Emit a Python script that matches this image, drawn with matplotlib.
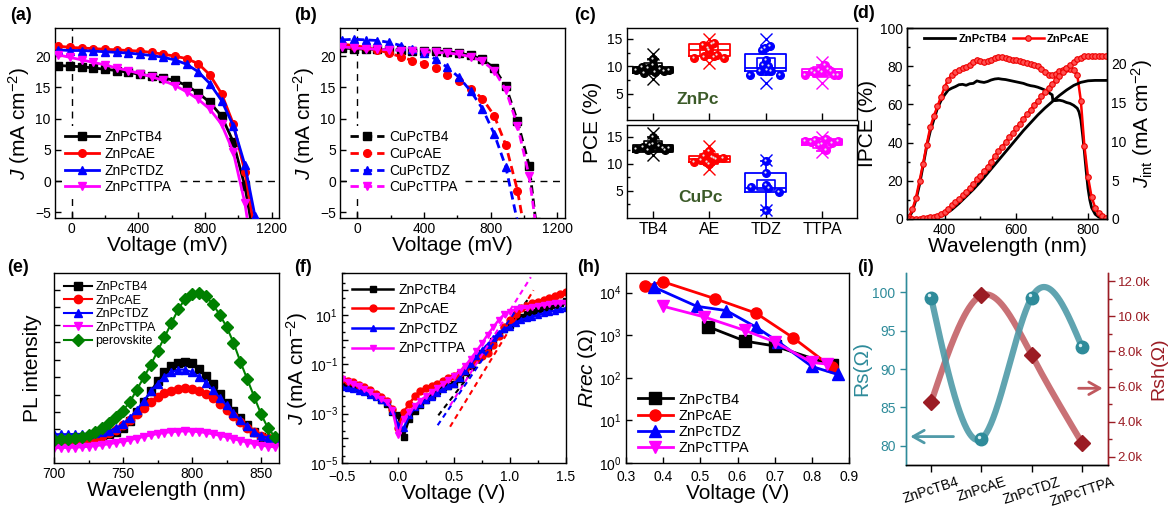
import numpy as np
import matplotlib
matplotlib.use("Agg")
import matplotlib.pyplot as plt
from matplotlib.ticker import MultipleLocator, FixedLocator, FuncFormatter, NullFormatter
from matplotlib.path import Path
import matplotlib.transforms as mtransforms

plt.rcParams['font.family'] = 'Liberation Sans'
plt.rcParams['mathtext.fontset'] = 'custom'
plt.rcParams['mathtext.rm'] = 'Liberation Sans'
plt.rcParams['mathtext.it'] = 'Liberation Sans:italic'
plt.rcParams['mathtext.bf'] = 'Liberation Sans:bold'
plt.rcParams['axes.linewidth'] = 1.0

# ---------------- data ----------------
# (a) ZnPc J-V
Va = [-80, -10, 60, 130, 200, 270, 340, 410, 480, 550, 620, 690, 760, 830, 900, 970, 1040, 1100]
Ja_TB4 = [18.5, 18.4, 18.3, 18.1, 17.9, 17.7, 17.4, 17.1, 16.8, 16.5, 16.1, 15.3, 14.1, 12.6, 10.4, 6.3, -0.8, -10]
Ja_AE = [21.6, 21.4, 21.3, 21.2, 21.1, 21.0, 20.9, 20.8, 20.6, 20.3, 20.0, 19.6, 18.8, 17.0, 14.0, 9.2, 1.5, -8]
Ja_TDZ = [21.0, 20.9, 20.9, 20.8, 20.7, 20.6, 20.5, 20.3, 20.1, 19.8, 19.4, 18.7, 17.5, 15.6, 12.9, 8.9, 2.6, -5.5]
Ja_TTPA = [20.2, 19.8, 19.4, 19.0, 18.6, 18.1, 17.7, 17.2, 16.7, 16.1, 15.3, 14.3, 13.1, 11.5, 9.1, 4.7, -3.5, -14]

# (b) CuPc J-V
Vb = [-90, -20, 50, 120, 190, 260, 330, 400, 470, 540, 610, 680, 750, 820, 890, 960, 1030, 1070]
Jb_TB4 = [21.3, 21.2, 21.1, 21.1, 21.0, 21.0, 20.9, 20.9, 20.8, 20.7, 20.5, 20.1, 19.5, 18.1, 15.2, 9.6, 2.5, -6.5]
Jb_AE = [21.9, 21.7, 21.4, 21.0, 20.5, 19.9, 19.3, 18.8, 18.1, 17.0, 16.0, 14.8, 13.2, 10.5, 5.8, -1.5, -12, -18]
Jb_TDZ = [22.6, 22.7, 22.6, 22.5, 22.2, 21.7, 21.2, 20.5, 19.5, 18.2, 16.6, 14.4, 11.6, 7.6, 2.3, -6.5, -15, -20]
Jb_TTPA = [21.5, 21.3, 21.2, 21.1, 21.0, 20.9, 20.8, 20.7, 20.6, 20.5, 20.3, 19.9, 19.2, 17.7, 14.6, 8.9, 0.8, -7]

# (c) PCE statistics
c_cats = ['TB4', 'AE', 'TDZ', 'TTPA']
c_colors = ['black', '#ff0000', '#0000ff', '#ff00ff']
zn_vals = [[9.4, 9.9, 8.8, 9.7, 11.4, 10.3, 8.9, 9.6, 9.1, 9.3],
           [11.6, 13.9, 11.8, 12.9, 14.3, 11.8, 11.5, 13.3, 12.1, 14.0],
           [8.5, 9.1, 13.4, 13.7, 10.3, 9.4, 9.1, 8.5, 13.0, 11.2, 10.0],
           [8.5, 9.1, 9.4, 10.2, 9.1, 8.5, 8.7, 8.9, 9.6, 8.4]]
zn_offs = [[-0.30, -0.20, -0.16, -0.08, 0.0, 0.0, 0.04, 0.12, 0.20, 0.28],
           [-0.28, -0.12, -0.09, 0.0, 0.08, 0.08, 0.26, -0.03, 0.14, 0.05],
           [-0.27, -0.10, -0.01, 0.08, -0.04, 0.02, 0.10, 0.26, -0.07, 0.0, 0.05],
           [-0.30, -0.18, -0.06, 0.06, 0.16, 0.28, -0.12, 0.0, 0.10, 0.22]]
zn_q1 = [8.7, 11.8, 9.2, 8.5]
zn_med = [9.3, 12.9, 9.7, 8.9]
zn_q3 = [9.9, 14.0, 12.3, 9.6]
zn_lo = [8.6, 11.5, 8.4, 8.3]
zn_hi = [11.4, 14.3, 13.7, 10.2]
zn_cross = [[12.3, 7.7], [15.0, 10.6], [14.9, 7.0], [10.7, 6.9]]

cu_vals = [[12.8, 13.1, 15.0, 13.7, 13.3, 12.9, 12.6, 13.0, 12.5, 13.4],
           [10.3, 11.5, 12.4, 11.0, 10.0, 11.1, 10.7, 10.9, 10.4, 11.3],
           [10.5, 8.3, 5.7, 6.0, 4.8, 1.3, 5.5],
           [14.3, 14.5, 14.6, 14.3, 13.4, 12.5, 13.9, 14.0, 13.6]]
cu_offs = [[-0.30, -0.17, 0.0, 0.0, 0.10, 0.28, -0.08, 0.18, 0.22, -0.05],
           [-0.28, -0.09, 0.0, 0.08, 0.0, 0.25, -0.15, 0.12, -0.05, 0.05],
           [0.0, 0.0, -0.26, 0.0, 0.24, 0.0, 0.05],
           [-0.30, -0.12, 0.07, 0.28, -0.05, 0.07, 0.17, -0.20, 0.0]]
cu_q1 = [12.2, 10.3, 4.8, 13.4]
cu_med = [13.0, 10.9, 5.5, 13.9]
cu_q3 = [13.5, 11.5, 8.2, 14.6]
cu_lo = [12.5, 9.7, 1.4, 12.3]
cu_hi = [15.0, 12.3, 10.5, 14.6]
cu_cross = [[15.8, 11.7], [13.3, 9.0], [10.6, 1.3], [15.0, 12.2]]

# (d) IPCE and integrated Jsc
wl_tb4 = [300, 310, 320, 330, 340, 350, 360, 370, 380, 390, 400, 410, 420, 430, 440, 450, 460, 470, 480, 490,
          500, 510, 520, 530, 540, 550, 560, 570, 580, 590, 600, 610, 620, 630, 640, 650, 660, 670, 680, 690,
          700, 702, 710, 720, 730, 740, 750, 760, 770, 775, 780, 785, 790, 795, 800, 805, 810, 820, 830, 840, 850]
ipce_tb4 = [0.5, 4, 10, 18, 28, 38, 46, 52, 58, 62, 65, 67.5, 68.5, 69.3, 70.3, 70.5, 70.0, 70.8, 71.0, 72.3,
            71.8, 71.5, 72.0, 72.8, 73.3, 73.5, 73.2, 73.0, 72.6, 72.2, 71.8, 71.4, 71.0, 70.3, 69.8, 69.5, 69.0,
            68.3, 67.5, 66.2, 65, 62, 62, 62.2, 61.8, 61.0, 60.5, 59.5, 58, 56, 52, 44, 35, 25, 16, 10, 6, 2.5,
            1, 0.5, 0.3]
wl_ae = [300, 310, 320, 330, 340, 350, 360, 370, 380, 390, 400, 410, 420, 430, 440, 450, 460, 470, 480, 490,
         500, 510, 520, 530, 540, 550, 560, 570, 580, 590, 600, 610, 620, 630, 640, 650, 660, 670, 680, 690,
         700, 710, 720, 730, 740, 750, 760, 770, 780, 790, 800, 810, 820, 830, 840, 850]
ipce_ae = [1, 5, 11, 20, 29, 39, 48, 54, 59, 64, 69, 73, 75.5, 77, 78, 79, 79.8, 80.5, 82, 83,
           82.5, 82.2, 82.5, 83.5, 84.5, 84.8, 84.7, 84.5, 84, 83.5, 83, 82.5, 82, 81.5, 81, 80.7, 80, 78.5,
           77, 75.5, 75.2, 76, 77.5, 78.2, 78.3, 78.5, 78, 75.5, 62, 38, 22, 11.5, 6, 3, 1.4, 0.5]
jint_ae = [0, 0, 0.02, 0.05, 0.1, 0.15, 0.22, 0.32, 0.45, 0.65, 0.95, 1.35, 1.75, 2.15, 2.6, 3.05, 3.5, 4.0,
           4.55, 5.1, 5.6, 6.15, 6.75, 7.4, 8.1, 8.7, 9.3, 9.9, 10.5, 11.1, 11.7, 12.3, 12.9, 13.5, 14.1, 14.7,
           15.25, 15.8, 16.35, 16.9, 17.4, 17.9, 18.45, 18.95, 19.4, 19.8, 20.2, 20.55, 20.8, 20.95, 21.0,
           21.05, 21.05, 21.05, 21.05, 21.05]
wl_jtb4 = [300, 320, 340, 360, 380, 400, 420, 440, 460, 480, 500, 520, 540, 560, 580, 600, 620, 640, 660, 680,
           700, 720, 740, 760, 780, 800, 820, 850]
jint_tb4 = [0, 0.02, 0.05, 0.12, 0.25, 0.55, 1.2, 2.0, 2.9, 3.8, 4.8, 5.9, 7.0, 8.1, 9.2, 10.3, 11.4, 12.4,
            13.4, 14.3, 15.1, 15.9, 16.6, 17.2, 17.6, 17.8, 17.85, 17.85]

# (e) PL spectra (arb. units)
wl_pl = [700, 705, 710, 715, 720, 725, 730, 735, 740, 745, 750, 755, 760, 765, 770, 775, 780, 785, 790, 795,
         800, 805, 810, 815, 820, 825, 830, 835, 840, 845, 850, 855, 860]
pl_TB4 = [1.3, 1.3, 1.3, 1.32, 1.35, 1.4, 1.45, 1.55, 1.65, 1.8, 2.0, 2.4, 2.9, 3.5, 4.1, 4.7, 5.2, 5.55, 5.75,
          5.8, 5.7, 5.4, 5.0, 4.5, 3.95, 3.45, 2.95, 2.55, 2.15, 1.8, 1.5, 1.35, 1.3]
pl_AE = [1.25, 1.25, 1.27, 1.3, 1.33, 1.38, 1.45, 1.55, 1.7, 1.9, 2.15, 2.45, 2.8, 3.15, 3.5, 3.8, 4.0, 4.15,
         4.25, 4.3, 4.25, 4.15, 3.95, 3.7, 3.4, 3.05, 2.7, 2.35, 2.0, 1.75, 1.55, 1.45, 1.4]
pl_TDZ = [1.65, 1.65, 1.65, 1.66, 1.67, 1.68, 1.7, 1.75, 1.85, 2.0, 2.25, 2.6, 3.05, 3.55, 4.1, 4.55, 4.95,
          5.2, 5.35, 5.35, 5.2, 4.95, 4.6, 4.2, 3.75, 3.3, 2.85, 2.45, 2.1, 1.8, 1.55, 1.45, 1.4]
pl_TTPA = [0.85, 0.86, 0.87, 0.88, 0.9, 0.93, 0.97, 1.02, 1.08, 1.15, 1.22, 1.3, 1.4, 1.5, 1.58, 1.66, 1.72,
           1.77, 1.8, 1.82, 1.8, 1.77, 1.72, 1.65, 1.56, 1.47, 1.37, 1.27, 1.17, 1.08, 1.0, 0.94, 0.9]
pl_pero = [1.33, 1.35, 1.38, 1.42, 1.48, 1.58, 1.75, 2.0, 2.3, 2.65, 3.0, 3.5, 4.2, 4.9, 5.6, 6.4, 7.2, 8.0,
           8.8, 9.4, 9.7, 9.75, 9.55, 9.1, 8.5, 7.8, 6.9, 5.8, 4.8, 3.8, 2.8, 2.0, 1.5]

# (f) dark J-V (log10 of J in mA cm-2)
Vf = [-0.50, -0.45, -0.40, -0.35, -0.30, -0.25, -0.20, -0.15, -0.10, -0.05, 0.00, 0.05, 0.10, 0.15, 0.20,
      0.25, 0.30, 0.35, 0.40, 0.45, 0.50, 0.55, 0.60, 0.65, 0.70, 0.75, 0.80, 0.85, 0.90, 0.95, 1.00, 1.05,
      1.10, 1.15, 1.20, 1.25, 1.30, 1.35, 1.40, 1.45, 1.50]
logJ_TB4 = [-1.75, -1.8, -1.87, -1.97, -2.07, -2.17, -2.3, -2.45, -2.6, -2.93, -3.07, -3.93, -3.2, -2.9, -2.67,
            -2.45, -2.27, -2.1, -1.93, -1.87, -1.8, -1.6, -1.33, -1.05, -0.8, -0.55, -0.33, -0.05, 0.2, 0.42,
            0.6, 0.78, 0.93, 1.03, 1.13, 1.2, 1.27, 1.33, 1.4, 1.48, 1.57]
logJ_AE = [-1.6, -1.67, -1.73, -1.83, -1.93, -2.05, -2.2, -2.33, -2.47, -2.8, -3.6, -2.95, -2.6, -2.3, -2.07,
           -1.98, -1.9, -1.78, -1.67, -1.57, -1.47, -1.35, -1.2, -1.0, -0.8, -0.68, -0.53, -0.2, 0.13, 0.5,
           0.8, 1.05, 1.27, 1.38, 1.47, 1.53, 1.6, 1.68, 1.76, 1.85, 1.93]
logJ_TDZ = [-1.93, -1.97, -2.0, -2.07, -2.13, -2.23, -2.33, -2.45, -2.53, -2.9, -3.47, -3.6, -3.07, -2.75, -2.6,
            -2.45, -2.33, -2.15, -2.0, -1.9, -1.8, -1.55, -1.27, -0.97, -0.67, -0.43, -0.2, 0.05, 0.27, 0.42,
            0.53, 0.68, 0.8, 0.87, 0.93, 1.0, 1.07, 1.12, 1.17, 1.22, 1.27]
logJ_TTPA = [-1.6, -1.7, -1.8, -1.9, -2.0, -2.13, -2.27, -2.4, -2.53, -2.85, -3.87, -3.2, -2.93, -2.7, -2.47,
             -2.3, -2.13, -1.97, -1.8, -1.63, -1.47, -1.3, -1.07, -0.77, -0.47, -0.15, 0.2, 0.5, 0.8, 1.03,
             1.13, 1.22, 1.27, 1.3, 1.33, 1.37, 1.4, 1.43, 1.47, 1.47, 1.47]
fitV_TB4, fitlog_TB4 = [0.36, 1.156], [-3.07, 1.6]
fitV_AE, fitlog_AE = [0.465, 1.21], [-3.53, 2.0]
fitV_TDZ, fitlog_TDZ = [0.354, 1.096], [-3.47, 1.47]
fitV_TTPA, fitlog_TTPA = [0.465, 1.186], [-2.67, 2.53]

# (h) recombination resistance
Vh_TB4, R_TB4 = [0.52, 0.62, 0.70, 0.855], [1600, 730, 560, 200]
Vh_AE, R_AE = [0.35, 0.40, 0.54, 0.65, 0.75, 0.855], [14000, 18000, 7200, 3300, 870, 175]
Vh_TDZ, R_TDZ = [0.375, 0.49, 0.57, 0.65, 0.71, 0.80, 0.87], [13500, 4800, 3800, 1550, 700, 185, 120]
Vh_TTPA, R_TTPA = [0.40, 0.51, 0.62, 0.70, 0.80, 0.84], [4800, 2700, 1300, 700, 230, 210]

# (i) Rs / Rsh
i_cats = ['ZnPcTB4', 'ZnPcAE', 'ZnPcTDZ', 'ZnPcTTPA']
Rs = [99.3, 80.9, 99.3, 92.9]
Rsh = [5100, 11200, 7800, 2800]

# ---------------- figure ----------------
W, H = 1171, 512
fig = plt.figure(figsize=(W / 100, H / 100), dpi=100)


def place(l, t, r, b):
    return fig.add_axes([l / W, 1 - b / H, (r - l) / W, (b - t) / H])


def style(ax, top=False, right=False, size=10):
    ax.tick_params(which='both', direction='in', top=top, right=right, labelsize=size, pad=3)
    ax.tick_params(which='major', length=4, width=1)
    ax.tick_params(which='minor', length=2.5, width=1)


def plabel(x, y, s):
    fig.text(x / W, 1 - y / H, s, fontsize=13, fontweight='bold', ha='left', va='center')


def spline(xs, ys, n=200):
    xs = np.asarray(xs, float); ys = np.asarray(ys, float)
    N = len(xs); h = np.diff(xs)
    A = np.zeros((N, N)); rhs = np.zeros(N)
    A[0, 0] = A[-1, -1] = 1
    for i in range(1, N - 1):
        A[i, i - 1] = h[i - 1]; A[i, i] = 2 * (h[i - 1] + h[i]); A[i, i + 1] = h[i]
        rhs[i] = 3 * ((ys[i + 1] - ys[i]) / h[i] - (ys[i] - ys[i - 1]) / h[i - 1])
    c = np.linalg.solve(A, rhs)
    xx = np.linspace(xs[0], xs[-1], n); yy = np.empty_like(xx)
    for k, x in enumerate(xx):
        i = min(np.searchsorted(xs, x, side='right') - 1, N - 2)
        dx = x - xs[i]
        b = (ys[i + 1] - ys[i]) / h[i] - h[i] * (2 * c[i] + c[i + 1]) / 3
        d = (c[i + 1] - c[i]) / (3 * h[i])
        yy[k] = ys[i] + b * dx + c[i] * dx ** 2 + d * dx ** 3
    return xx, yy


jlabel = '$J$ (mA cm$^{-2}$)'
dash = (0, (5, 4))


def white_legend(ax):
    leg = ax.legend(loc='lower left', bbox_to_anchor=(0.0, 0.07), fontsize=10, handlelength=2.4,
                    labelspacing=0.2, borderpad=0.25, handletextpad=0.4, frameon=True, fancybox=False)
    leg.get_frame().set_edgecolor('none'); leg.get_frame().set_facecolor('white'); leg.get_frame().set_alpha(1)


# ---- (a)
ax = place(55, 28, 279, 218)
ax.axhline(0, color='k', ls=dash, lw=1, zorder=1)
ax.axvline(0, color='k', ls=dash, lw=1, zorder=1)
for J, c, m, lab in [(Ja_TB4, 'black', 's', 'ZnPcTB4'), (Ja_AE, '#ff0000', 'o', 'ZnPcAE'),
                     (Ja_TDZ, '#0000ff', '^', 'ZnPcTDZ'), (Ja_TTPA, '#ff00ff', 'v', 'ZnPcTTPA')]:
    ax.plot(Va, J, color=c, marker=m, ms=5.5, lw=2, label=lab, zorder=3)
ax.set_xlim(-100, 1245); ax.set_ylim(-5.9, 24.5)
ax.xaxis.set_major_locator(FixedLocator([0, 400, 800, 1200]))
ax.xaxis.set_minor_locator(FixedLocator([200, 600, 1000]))
ax.yaxis.set_major_locator(MultipleLocator(5))
style(ax)
ax.set_xlabel('Voltage (mV)', fontsize=15, labelpad=0)
ax.set_ylabel(jlabel, fontsize=15, labelpad=2)
white_legend(ax)
plabel(10, 16, '(a)')

# ---- (b)
ax = place(340, 28, 565, 218)
ax.axhline(0, color='k', ls=dash, lw=1, zorder=1)
ax.axvline(0, color='k', ls=dash, lw=1, zorder=1)
for J, c, m, lab in [(Jb_TB4, 'black', 's', 'CuPcTB4'), (Jb_AE, '#ff0000', 'o', 'CuPcAE'),
                     (Jb_TDZ, '#0000ff', '^', 'CuPcTDZ'), (Jb_TTPA, '#ff00ff', 'v', 'CuPcTTPA')]:
    ax.plot(Vb, J, color=c, marker=m, ms=5.5, lw=2, ls=(0, (3, 1.8)), label=lab, zorder=3)
ax.set_xlim(-104, 1245); ax.set_ylim(-5.9, 24.5)
ax.xaxis.set_major_locator(FixedLocator([0, 400, 800, 1200]))
ax.xaxis.set_minor_locator(FixedLocator([200, 600, 1000]))
ax.yaxis.set_major_locator(MultipleLocator(5))
style(ax)
ax.set_xlabel('Voltage (mV)', fontsize=15, labelpad=0)
ax.set_ylabel(jlabel, fontsize=15, labelpad=2)
white_legend(ax)
plabel(294, 16, '(b)')

# ---- (c)
rect = Path([(-1, -0.55), (1, -0.55), (1, 0.55), (-1, 0.55), (-1, -0.55)],
            [Path.MOVETO, Path.LINETO, Path.LINETO, Path.LINETO, Path.CLOSEPOLY])


def pce_panel(ax, vals, offs, q1, med, q3, lo, hi, cross):
    for i in range(4):
        pos = i + 1
        c = c_colors[i]
        st = [dict(q1=q1[i], med=med[i], q3=q3[i], whislo=lo[i], whishi=hi[i], fliers=[])]
        ax.bxp(st, positions=[pos], widths=0.72, showfliers=False, capwidths=0.18,
               boxprops=dict(color=c, lw=1.3), whiskerprops=dict(color=c, lw=1.3),
               capprops=dict(color=c, lw=1.3), medianprops=dict(color=c, lw=1.3))
        ax.plot([pos], [np.mean(vals[i])], marker=rect, ms=13, mfc='none', mec=c, mew=1.2, ls='none')
        ax.plot([pos, pos], cross[i], ls='none', marker='x', ms=9, mew=1.0, color=c)
        xs = [pos + o for o in offs[i]]
        ax.plot(xs, vals[i], ls='none', marker='o', ms=5.5, mfc=c, mec=c, zorder=4)
        hl = mtransforms.offset_copy(ax.transData, fig=fig, x=-0.7, y=0.7, units='points')
        ax.plot(xs, vals[i], ls='none', marker='o', ms=1.6, mfc='#e8e8e8', mec='none', zorder=5, transform=hl)
    ax.set_xlim(0.54, 4.62)
    ax.set_xticks([1, 2, 3, 4])
    ax.yaxis.set_major_locator(FixedLocator([5, 10, 15]))
    ax.yaxis.set_minor_locator(FixedLocator([2.5, 7.5, 12.5]))
    style(ax, size=10)
    ax.tick_params(axis='x', which='major', length=5)


axc1 = place(627, 28, 857, 120)
pce_panel(axc1, zn_vals, zn_offs, zn_q1, zn_med, zn_q3, zn_lo, zn_hi, zn_cross)
axc1.set_ylim(0.2, 17)
axc1.set_xticklabels([])
axc1.text(1.8, 3.9, 'ZnPc', color='#3b5a28', fontsize=12.5, fontweight='bold', ha='center', va='center')
axc2 = place(627, 125, 857, 218)
pce_panel(axc2, cu_vals, cu_offs, cu_q1, cu_med, cu_q3, cu_lo, cu_hi, cu_cross)
axc2.set_ylim(-0.1, 17.2)
axc2.set_xticklabels(c_cats, fontsize=11.5)
axc2.text(1.85, 3.7, 'CuPc', color='#3b5a28', fontsize=12.5, fontweight='bold', ha='center', va='center')
fig.text(592 / W, 1 - 122 / H, 'PCE (%)', rotation=90, fontsize=15, ha='center', va='center')
plabel(574, 16, '(c)')

# ---- (d)
ax = place(907, 28, 1107, 219)
ax2 = ax.twinx()
ax.plot(wl_tb4, ipce_tb4, color='black', lw=2, label='ZnPcTB4')
ax.plot(wl_ae, ipce_ae, color='#ff0000', lw=1.8, marker='o', ms=4, mfc='#ff5050', mec='#ee0000', mew=0.8,
        label='ZnPcAE')
ax2.plot(wl_jtb4, jint_tb4, color='black', lw=2)
ax2.plot(wl_ae, jint_ae, color='#ff0000', lw=1.8, marker='o', ms=4, mfc='#ff5050', mec='#ee0000', mew=0.8)
ax.set_xlim(295, 853); ax.set_ylim(0, 100); ax2.set_ylim(0, 24.6)
ax.xaxis.set_major_locator(FixedLocator([400, 600, 800]))
ax.xaxis.set_minor_locator(FixedLocator([300, 500, 700]))
ax.yaxis.set_major_locator(MultipleLocator(20)); ax.yaxis.set_minor_locator(MultipleLocator(10))
ax2.yaxis.set_major_locator(MultipleLocator(5)); ax2.yaxis.set_minor_locator(MultipleLocator(2.5))
style(ax, size=10)
style(ax2, size=10)
ax.set_xlabel('Wavelength (nm)', fontsize=15, labelpad=0)
ax.set_ylabel('IPCE (%)', fontsize=15, labelpad=2)
ax2.set_ylabel('$J_{\\rm int}$ (mA cm$^{-2}$)', fontsize=15, labelpad=2)
ax.legend(loc='upper center', bbox_to_anchor=(0.5, 1.02), ncol=2, frameon=False,
          prop=dict(weight='bold', size=8), handlelength=2.8, columnspacing=0.5, handletextpad=0.3)
plabel(852, 13, '(d)')

# ---- (e)
ax = place(54, 273, 279, 463)
for y, c, m, lab in [(pl_TB4, 'black', 's', 'ZnPcTB4'), (pl_AE, '#ff0000', 'o', 'ZnPcAE'),
                     (pl_TDZ, '#0000ff', '^', 'ZnPcTDZ'), (pl_TTPA, '#ff00ff', 'v', 'ZnPcTTPA'),
                     (pl_pero, '#008000', 'D', 'perovskite')]:
    ax.plot(wl_pl, y, color=c, marker=m, ms=6, lw=1.5, label=lab)
ax.set_xlim(700, 863); ax.set_ylim(0, 10.88)
ax.xaxis.set_major_locator(FixedLocator([700, 750, 800, 850]))
ax.xaxis.set_minor_locator(FixedLocator([725, 775, 825]))
ax.yaxis.set_major_locator(FixedLocator([0.92 + k for k in range(10)]))
ax.yaxis.set_major_formatter(NullFormatter())
style(ax, size=10)
ax.set_xlabel('Wavelength (nm)', fontsize=15, labelpad=0)
ax.set_ylabel('PL intensity', fontsize=15, labelpad=6)
ax.legend(loc='upper left', bbox_to_anchor=(0.0, 1.01), frameon=False, fontsize=9, handlelength=2.2,
          labelspacing=0.12, handletextpad=0.3, borderpad=0.3)
plabel(7, 268, '(e)')

# ---- (f)
ax = place(342, 273, 566, 463)
for lj, c, m, lab, fv, fl in [(logJ_TB4, 'black', 's', 'ZnPcTB4', fitV_TB4, fitlog_TB4),
                              (logJ_AE, '#ff0000', 'o', 'ZnPcAE', fitV_AE, fitlog_AE),
                              (logJ_TDZ, '#0000ff', '^', 'ZnPcTDZ', fitV_TDZ, fitlog_TDZ),
                              (logJ_TTPA, '#ff00ff', 'v', 'ZnPcTTPA', fitV_TTPA, fitlog_TTPA)]:
    ax.plot(Vf, 10 ** np.array(lj), color=c, marker=m, ms=5, lw=1.8, label=lab)
    ax.plot(fv, 10 ** np.array(fl), color=c, lw=1.5, ls=(0, (2.5, 2)))
ax.set_yscale('log')
ax.set_xlim(-0.5, 1.5); ax.set_ylim(1e-5, 500)
ax.xaxis.set_major_locator(MultipleLocator(0.5)); ax.xaxis.set_minor_locator(MultipleLocator(0.25))
ax.yaxis.set_major_locator(FixedLocator([10.0 ** k for k in range(-5, 3)]))
ax.yaxis.set_major_formatter(FuncFormatter(
    lambda v, p: ('$10^{%d}$' % round(np.log10(v))) if abs(round(np.log10(v))) % 2 == 1 else ''))
ax.yaxis.set_minor_locator(FixedLocator([10.0 ** k * s for k in range(-5, 3) for s in (2, 5)]))
ax.yaxis.set_minor_formatter(NullFormatter())
style(ax, size=10)
ax.tick_params(axis='x', pad=5)
ax.set_xlabel('Voltage (V)', fontsize=15, labelpad=0)
ax.set_ylabel(jlabel, fontsize=15, labelpad=0)
ax.legend(loc='upper left', frameon=False, fontsize=10, handlelength=3.0, labelspacing=0.4,
          handletextpad=0.4, borderpad=0.2)
plabel(294, 268, '(f)')

# ---- (h)
ax = place(626, 273, 849, 463)
for v, r, c, m, lab in [(Vh_TB4, R_TB4, 'black', 's', 'ZnPcTB4'), (Vh_AE, R_AE, '#ff0000', 'o', 'ZnPcAE'),
                        (Vh_TDZ, R_TDZ, '#0000ff', '^', 'ZnPcTDZ'), (Vh_TTPA, R_TTPA, '#ff00ff', 'v', 'ZnPcTTPA')]:
    ax.plot(v, r, color=c, marker=m, ms=8, lw=2, label=lab)
ax.set_yscale('log')
ax.set_xlim(0.3, 0.9); ax.set_ylim(1, 2.9e4)
ax.xaxis.set_major_locator(MultipleLocator(0.1))
ax.yaxis.set_major_locator(FixedLocator([10.0 ** k for k in range(0, 5)]))
ax.yaxis.set_major_formatter(FuncFormatter(lambda v, p: '$10^{%d}$' % round(np.log10(v))))
ax.yaxis.set_minor_locator(FixedLocator([]))
style(ax, size=10)
ax.tick_params(axis='x', pad=5)
ax.set_xlabel('Voltage (V)', fontsize=15, labelpad=0)
ax.set_ylabel('$Rrec$ (Ω)', fontsize=15, labelpad=0)
ax.legend(loc='lower left', bbox_to_anchor=(0.0, -0.02), frameon=False, fontsize=10.5, handlelength=2.4,
          labelspacing=0.15, handletextpad=0.4, borderpad=0.3)
plabel(577, 268, '(h)')

# ---- (i)
teal = '#2e8b9a'; teal_l = '#4f9aa8'; dred = '#9b1c24'; red_l = '#c0585e'
ax = place(906, 273, 1108, 465)
ax2 = ax.twinx()
xi = np.arange(4)
sx, sy = spline(xi, Rs)
ax.plot(sx, sy, color=teal_l, lw=4.5, alpha=0.9, solid_capstyle='butt', zorder=2)
sx2, sy2 = spline(xi, Rsh)
ax2.plot(sx2, sy2, color=red_l, lw=4.5, alpha=0.85, solid_capstyle='butt', zorder=2)
ax.plot(xi, Rs, 'o', ms=9, mfc=teal, mec=teal, zorder=5)
hl = mtransforms.offset_copy(ax.transData, fig=fig, x=-1.5, y=1.5, units='points')
ax.plot(xi, Rs, 'o', ms=2.5, mfc='#d8f0f4', mec='none', zorder=6, transform=hl)
ax2.plot(xi, Rsh, 'D', ms=8, mfc=dred, mec=dred, zorder=5)
ax.set_zorder(ax2.get_zorder() + 1); ax.patch.set_visible(False)
ax.set_xlim(-0.5, 3.52)
ax.set_ylim(77.5, 102.5); ax2.set_ylim(1524, 12476)
ax.yaxis.set_major_locator(MultipleLocator(5))
ax2.yaxis.set_major_locator(MultipleLocator(2000)); ax2.yaxis.set_minor_locator(MultipleLocator(1000))
ax2.yaxis.set_major_formatter(FuncFormatter(lambda v, p: '%.1fk' % (v / 1000)))
ax.set_xticks(xi)
ax.set_xticklabels(i_cats, rotation=18, fontsize=10)
ax.tick_params(axis='x', direction='out', length=5, width=1, pad=2)
ax.tick_params(axis='y', direction='out', length=4, width=1, colors=teal, labelsize=10)
ax2.tick_params(axis='y', which='both', direction='out', colors=dred, labelsize=9.5, pad=2)
ax2.tick_params(axis='y', which='major', length=5, width=1)
ax2.tick_params(axis='y', which='minor', length=3, width=1)
for a in (ax, ax2):
    a.spines['top'].set_visible(False)
    a.spines['left'].set_color(teal); a.spines['right'].set_color(dred)
ax.set_ylabel('Rs(Ω)', color=teal, fontsize=15, labelpad=1)
ax2.set_ylabel('Rsh(Ω)', color=dred, fontsize=14, labelpad=0)
ax.annotate('', xy=(-0.47, 81.2), xytext=(0.5, 81.2),
            arrowprops=dict(arrowstyle='->,head_length=0.8,head_width=0.45', color=teal_l, lw=2))
ax2.annotate('', xy=(3.47, 5900), xytext=(2.88, 5900),
             arrowprops=dict(arrowstyle='->,head_length=0.8,head_width=0.45', color=red_l, lw=2))
plabel(857, 268, '(i)')

fig.savefig('out.png', dpi=100)
